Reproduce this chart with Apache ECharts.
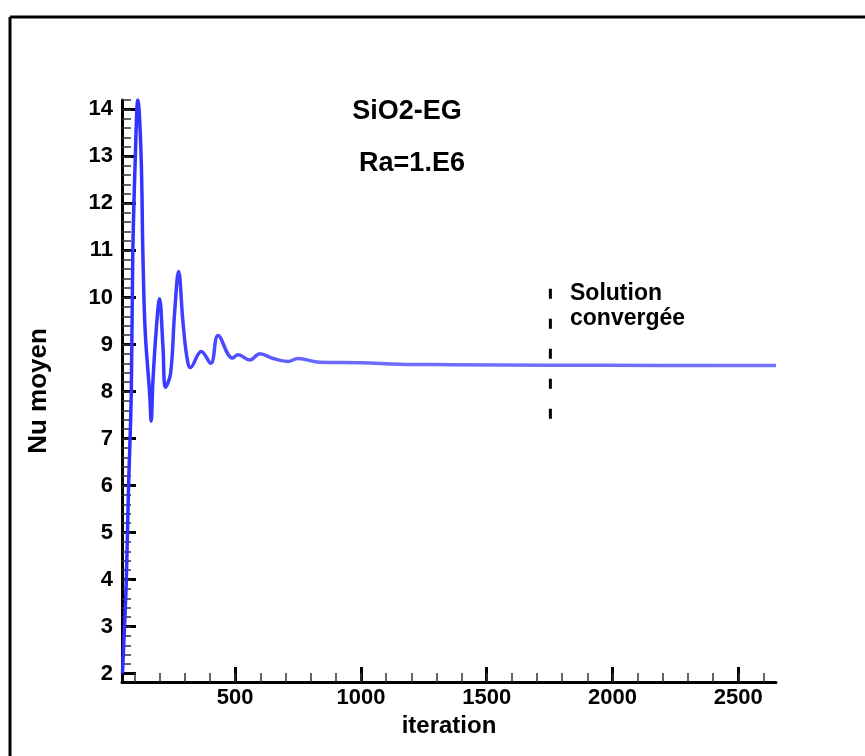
<!DOCTYPE html>
<html>
<head>
<meta charset="utf-8">
<script src="https://cdn.jsdelivr.net/npm/echarts@6/dist/echarts.min.js"></script>
<style>
  html, body { margin: 0; padding: 0; background: #fff; }
  #chart { width: 865px; height: 756px; }
</style>
</head>
<body>
<div id="chart"></div>
<script>
// iteration / Nu moyen
const iterations = [52, 60, 67, 76, 87, 93, 103, 113, 126, 133, 142, 160, 166, 173, 186, 199, 213, 223, 243, 259, 275, 292, 308, 322, 365, 403, 432, 489, 511, 558, 598, 651, 710, 750, 837, 1000, 1155, 1355, 1753, 2200, 2650];
const nuMoyen    = [2.0, 3.0, 3.96, 5.95, 8.0, 10.96, 12.99, 14.2, 13.0, 10.94, 9.3, 7.95, 7.37, 8.23, 9.3, 9.97, 8.94, 8.09, 8.38, 9.66, 10.55, 9.5, 8.73, 8.51, 8.85, 8.6, 9.19, 8.71, 8.78, 8.67, 8.80, 8.70, 8.64, 8.70, 8.62, 8.61, 8.58, 8.57, 8.56, 8.555, 8.55];

// "Solution convergée" marker
const convergedAt = 1753;
const markerRange = [7.42, 10.21];

// axis ticks
const xMajor = [500, 1000, 1500, 2000, 2500];
const yMajor = [2, 3, 4, 5, 6, 7, 8, 9, 10, 11, 12, 13, 14];
const xMinor = [];
for (let v = 100; v <= 2600; v += 100) xMinor.push(v);
const yMinor = [];
for (let v = 22; v <= 142; v += 2) yMinor.push(v / 10);

const lineData = iterations.map((x, i) => [x, nuMoyen[i]]);
const markerData = markerRange.map(y => [convergedAt, y]);

const FONT = 'Liberation Sans, Arial, sans-serif';
const bold = { fontFamily: FONT, fontWeight: 'bold', color: '#000' };
const plain = v => String(v);

const chart = echarts.init(document.getElementById('chart'));
chart.setOption({
  backgroundColor: '#fff',
  animation: false,
  grid: { left: 122, top: 100, right: 89, bottom: 74 },
  xAxis: [
    {
      type: 'value', min: 50, max: 2650,
      name: 'iteration', nameLocation: 'middle', nameGap: 24,
      nameTextStyle: Object.assign({ fontSize: 24 }, bold),
      axisLine: { lineStyle: { color: '#000', width: 3 } },
      axisTick: { inside: true, length: 15, customValues: xMajor, lineStyle: { color: '#000', width: 3 } },
      axisLabel: Object.assign({ customValues: xMajor, fontSize: 22, margin: 5, formatter: plain }, bold),
      splitLine: { show: false }
    },
    {
      type: 'value', min: 50, max: 2650, position: 'bottom',
      axisLine: { show: false },
      axisTick: { inside: true, length: 9, customValues: xMinor, lineStyle: { color: '#333', width: 1.5 } },
      axisLabel: { show: false },
      splitLine: { show: false }
    }
  ],
  yAxis: [
    {
      type: 'value', min: 1.82, max: 14.2,
      name: 'Nu moyen', nameLocation: 'middle', nameGap: 70,
      nameTextStyle: Object.assign({ fontSize: 26 }, bold),
      axisLine: { show: true, lineStyle: { color: '#000', width: 3 } },
      axisTick: { show: true, inside: true, length: 14, customValues: yMajor, lineStyle: { color: '#000', width: 3 } },
      axisLabel: Object.assign({ customValues: yMajor, fontSize: 22, margin: 9, formatter: plain }, bold),
      splitLine: { show: false }
    },
    {
      type: 'value', min: 1.82, max: 14.2, position: 'left',
      axisLine: { show: false },
      axisTick: { show: true, inside: true, length: 9, customValues: yMinor, lineStyle: { color: '#333', width: 1.5 } },
      axisLabel: { show: false },
      splitLine: { show: false }
    }
  ],
  series: [
    {
      type: 'line',
      data: lineData,
      smooth: 0.4,
      showSymbol: false,
      clip: true,
      lineStyle: {
        width: 3.5,
        color: new echarts.graphic.LinearGradient(0, 0, 1, 0, [
          { offset: 0, color: '#2e2eff' },
          { offset: 0.12, color: '#4444ff' },
          { offset: 0.3, color: '#6b6bff' },
          { offset: 1, color: '#7373ff' }
        ])
      }
    },
    {
      type: 'line',
      data: markerData,
      showSymbol: false,
      lineStyle: { color: '#000', width: 3, type: [10, 20] }
    }
  ],
  graphic: [
    { type: 'line', shape: { x1: 10, y1: 17, x2: 865, y2: 17 }, style: { stroke: '#000', lineWidth: 3 } },
    { type: 'line', shape: { x1: 10, y1: 17, x2: 10, y2: 756 }, style: { stroke: '#000', lineWidth: 3 } },
    { type: 'text', x: 407, y: 112, style: { text: 'SiO2-EG', fontSize: 27, textAlign: 'center', textVerticalAlign: 'middle', fill: '#000', fontFamily: FONT, fontWeight: 'bold' } },
    { type: 'text', x: 412, y: 164, style: { text: 'Ra=1.E6', fontSize: 27, textAlign: 'center', textVerticalAlign: 'middle', fill: '#000', fontFamily: FONT, fontWeight: 'bold' } },
    { type: 'text', x: 570, y: 294, style: { text: 'Solution', fontSize: 23, textAlign: 'left', textVerticalAlign: 'middle', fill: '#000', fontFamily: FONT, fontWeight: 'bold' } },
    { type: 'text', x: 570, y: 319, style: { text: 'convergée', fontSize: 23, textAlign: 'left', textVerticalAlign: 'middle', fill: '#000', fontFamily: FONT, fontWeight: 'bold' } }
  ]
});
</script>
</body>
</html>
